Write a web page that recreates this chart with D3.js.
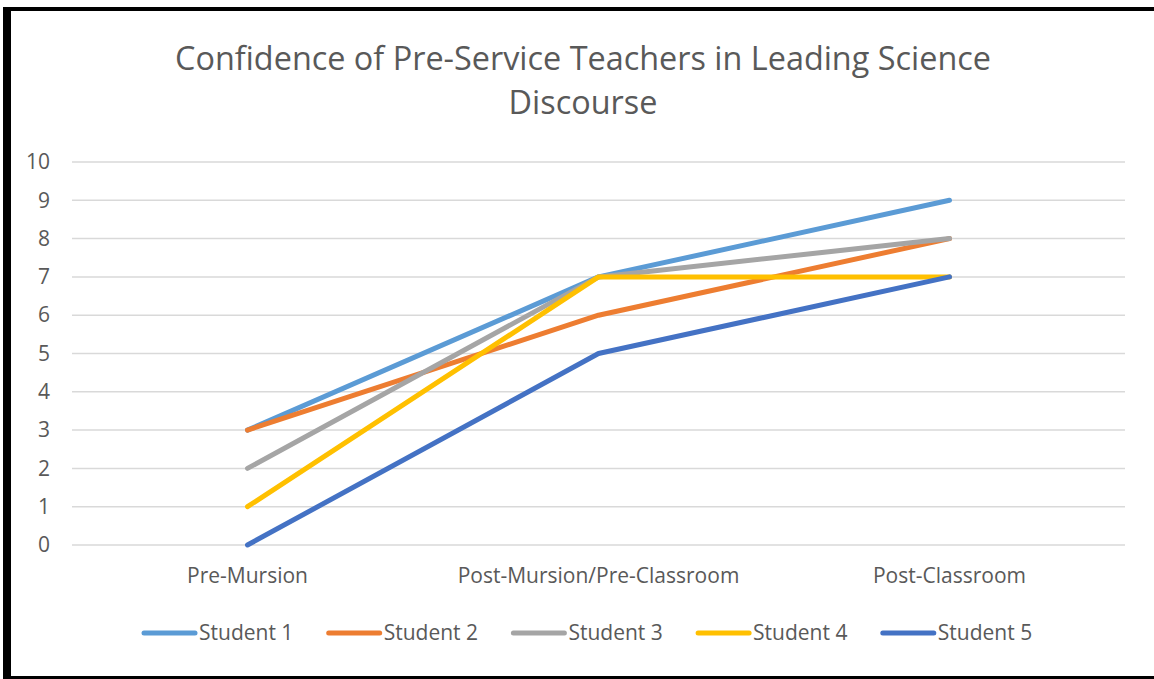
<!DOCTYPE html>
<html>
  <head>
    <meta charset="utf-8">
    <title>Confidence of Pre-Service Teachers</title>
    <script src="https://d3js.org/d3.v7.min.js"></script>
    <style>
      body { margin: 0; background: #fff; }
      svg { display: block; font-family: "Open Sans", sans-serif; }
    </style>
  </head>
  <body>
    <svg id="chart" width="1154" height="679"></svg>
    <script>
      // chart data
      const categories = ["Pre-Mursion", "Post-Mursion/Pre-Classroom", "Post-Classroom"];
      const seriesNames = ["Student 1", "Student 2", "Student 3", "Student 4", "Student 5"];
      const student1 = [3, 7, 9];
      const student2 = [3, 6, 8];
      const student3 = [2, 7, 8];
      const student4 = [1, 7, 7];
      const student5 = [0, 5, 7];
      const yTicks = [0, 1, 2, 3, 4, 5, 6, 7, 8, 9, 10];
      const colors = ["#5b9bd5", "#ed7d31", "#a5a5a5", "#ffc000", "#4472c4"];
      const titleLines = ["Confidence of Pre-Service Teachers in Leading Science", "Discourse"];

      const series = [student1, student2, student3, student4, student5].map(function(v, i) {
        return { name: seriesNames[i], values: v, color: colors[i] };
      });

      const svg = d3.select("#chart");
      const margin = { top: 162, right: 29, bottom: 134, left: 72 };
      const width = 1154, height = 679;

      // frame
      svg.append("rect").attr("x", 3).attr("y", 7).attr("width", 8).attr("height", 672).attr("fill", "#000");
      svg.append("rect").attr("x", 3).attr("y", 7).attr("width", 1151).attr("height", 4).attr("fill", "#000");
      svg.append("rect").attr("x", 3).attr("y", 676).attr("width", 1151).attr("height", 3).attr("fill", "#000");

      // title
      svg.append("text")
        .attr("text-anchor", "middle")
        .attr("fill", "#595959")
        .style("font-size", "32.4px")
        .selectAll("tspan")
        .data(titleLines)
        .join("tspan")
          .attr("x", 583)
          .attr("y", function(d, i) { return 70 + i * 44; })
          .text(function(d) { return d; });

      const x = d3.scaleBand()
        .domain(categories)
        .range([margin.left, width - margin.right]);
      const y = d3.scaleLinear()
        .domain([0, 10])
        .range([height - margin.bottom, margin.top]);

      // gridlines
      svg.append("g")
        .selectAll("line")
        .data(yTicks)
        .join("line")
          .attr("x1", margin.left)
          .attr("x2", width - margin.right)
          .attr("y1", function(d) { return y(d); })
          .attr("y2", function(d) { return y(d); })
          .attr("stroke", "#d9d9d9")
          .attr("stroke-width", 1.5);

      // y axis
      const yAxis = svg.append("g")
        .attr("transform", "translate(" + margin.left + ",0)")
        .call(d3.axisLeft(y).tickValues(yTicks).tickSize(0).tickPadding(22));
      yAxis.select(".domain").remove();
      yAxis.selectAll("text").attr("fill", "#595959").style("font-size", "21px").style("font-family", "Open Sans, sans-serif");

      // x axis
      const xAxis = svg.append("g")
        .attr("transform", "translate(0," + (height - margin.bottom) + ")")
        .call(d3.axisBottom(x).tickSize(0).tickPadding(23));
      xAxis.select(".domain").remove();
      xAxis.selectAll("text").attr("fill", "#595959").style("font-size", "21px").style("font-family", "Open Sans, sans-serif");

      // lines
      const line = d3.line()
        .x(function(d, i) { return x(categories[i]) + x.bandwidth() / 2; })
        .y(function(d) { return y(d); });
      svg.append("g")
        .selectAll("path")
        .data(series)
        .join("path")
          .attr("d", function(d) { return line(d.values); })
          .attr("fill", "none")
          .attr("stroke", function(d) { return d.color; })
          .attr("stroke-width", 5)
          .attr("stroke-linecap", "round")
          .attr("stroke-linejoin", "round");

      // legend
      const legend = svg.append("g")
        .selectAll("g")
        .data(series)
        .join("g")
          .attr("transform", function(d, i) { return "translate(" + (144 + i * 184.7) + ",633)"; });
      legend.append("line")
        .attr("x1", 0).attr("x2", 51)
        .attr("stroke", function(d) { return d.color; })
        .attr("stroke-width", 5)
        .attr("stroke-linecap", "round");
      legend.append("text")
        .attr("x", 55)
        .attr("dy", "0.35em")
        .attr("fill", "#595959")
        .style("font-size", "21px")
        .text(function(d) { return d.name; });
    </script>
  </body>
</html>
